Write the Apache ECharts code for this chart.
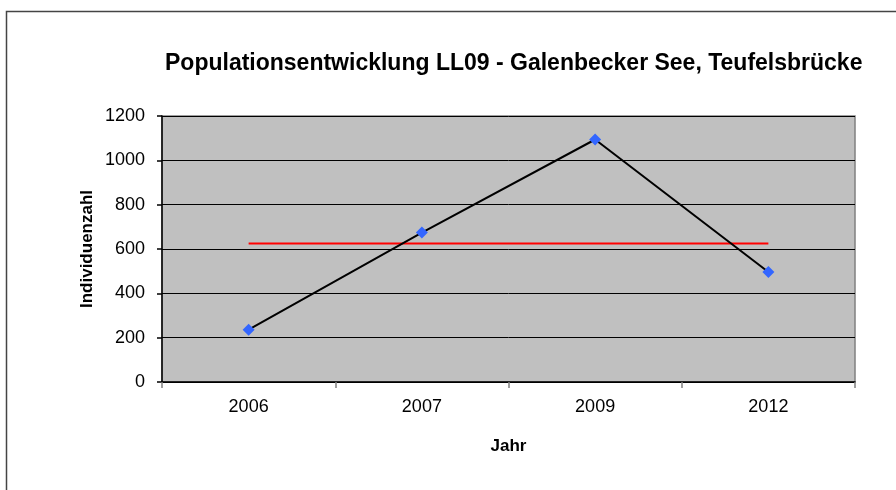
<!DOCTYPE html>
<html>
<head>
<meta charset="utf-8">
<title>Populationsentwicklung LL09</title>
<script src="https://cdn.jsdelivr.net/npm/echarts@6/dist/echarts.min.js"></script>
<style>
  html, body { margin: 0; padding: 0; background: #fff; }
  #chart { width: 896px; height: 490px; }
</style>
</head>
<body>
<div id="chart"></div>
<script>
// data
const years = ['2006', '2007', '2009', '2012']
const individuen = [236, 674, 1094, 496]
// red reference line (mean of the counts)
const mittelwert = [625, 625, 625, 625]

const chart = echarts.init(document.getElementById('chart'))

const font = 'Liberation Sans, Arial, sans-serif'

const option = {
  animation: false,
  textStyle: { fontFamily: font },
  graphic: [
    {
      type: 'rect',
      shape: { x: 6.5, y: 11.5, width: 1000, height: 1000 },
      style: { fill: 'none', stroke: '#444', lineWidth: 1.5 },
      silent: true
    }
  ],
  title: {
    text: 'Populationsentwicklung LL09 - Galenbecker See, Teufelsbrücke',
    left: 160,
    top: 47,
    textStyle: { fontFamily: font, fontSize: 23, fontWeight: 'bold', color: '#000' }
  },
  grid: {
    left: 162,
    right: 41,
    top: 116,
    bottom: 108,
    show: true,
    backgroundColor: '#c0c0c0',
    borderColor: '#808080',
    borderWidth: 1.5
  },
  xAxis: {
    type: 'category',
    data: years,
    boundaryGap: true,
    name: 'Jahr',
    nameLocation: 'middle',
    nameGap: 56,
    nameTextStyle: { fontFamily: font, fontSize: 17, fontWeight: 'bold', color: '#000' },
    axisLine: { lineStyle: { color: '#000', width: 1.5 } },
    axisTick: { show: true, length: 6, lineStyle: { color: '#808080', width: 1.5 } },
    axisLabel: { fontFamily: font, fontSize: 18, color: '#000', margin: 16 },
    splitLine: { show: false }
  },
  yAxis: {
    type: 'value',
    min: 0,
    max: 1200,
    interval: 200,
    name: 'Individuenzahl',
    nameLocation: 'middle',
    nameGap: 66,
    nameRotate: 90,
    nameMoveOverlap: false,
    nameTextStyle: { fontFamily: font, fontSize: 17, fontWeight: 'bold', color: '#000' },
    axisLine: { show: true, lineStyle: { color: '#000', width: 1.5 } },
    axisTick: { show: true, length: 5, lineStyle: { color: '#000', width: 1.5 } },
    axisLabel: {
      fontFamily: font,
      fontSize: 18,
      color: '#000',
      margin: 17,
      formatter: (v) => String(v)
    },
    splitLine: { show: true, lineStyle: { color: '#000', width: 1 } }
  },
  series: [
    {
      name: 'Mittelwert',
      type: 'line',
      data: mittelwert,
      showSymbol: false,
      symbol: 'none',
      lineStyle: { color: '#ff0000', width: 2 },
      z: 2
    },
    {
      name: 'Individuenzahl',
      type: 'line',
      data: individuen,
      symbol: 'diamond',
      symbolSize: 12,
      itemStyle: { color: '#3366ff' },
      lineStyle: { color: '#000', width: 2 },
      z: 3
    }
  ]
}

chart.setOption(option)
</script>
</body>
</html>
